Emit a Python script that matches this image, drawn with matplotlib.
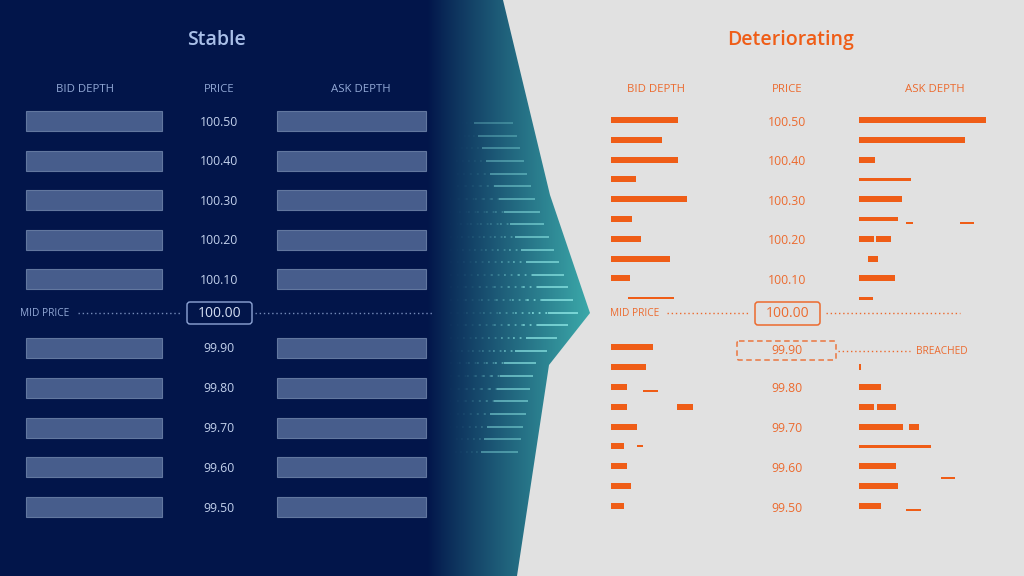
import numpy as np
import matplotlib
matplotlib.use('Agg')
from matplotlib import pyplot
from matplotlib.patches import FancyBboxPatch, Polygon
from matplotlib.colors import to_rgba

pyplot.rcParams['font.family'] = ['Open Sans', 'DejaVu Sans']

# price ladder
prices = [100.50, 100.40, 100.30, 100.20, 100.10, 99.90, 99.80, 99.70, 99.60, 99.50]
price_labels = ['100.50', '100.40', '100.30', '100.20', '100.10',
                '99.90', '99.80', '99.70', '99.60', '99.50']
mid_price = '100.00'

# stable book: full, even depth on every level
stable_bid = [136, 136, 136, 136, 136, 136, 136, 136, 136, 136]
stable_ask = [149, 149, 149, 149, 149, 149, 149, 149, 149, 149]

# deteriorating book: half-tick levels, thin and uneven
det_levels = [100.50, 100.45, 100.40, 100.35, 100.30, 100.25, 100.20, 100.15, 100.10, 100.05,
              99.90, 99.85, 99.80, 99.75, 99.70, 99.65, 99.60, 99.55, 99.50]
det_bid = [67, 51, 67, 25, 76, 21, 30, 59, 19, 0,
           42, 35, 16, 16, 26, 13, 16, 20, 13]
det_ask = [127, 106, 16, 52, 43, 39, 15, 0, 36, 14,
           0, 2, 22, 15, 44, 72, 37, 39, 22]
# stray resting orders (level, offset from book edge, size)
bid_frag_levels = [100.05, 99.79, 99.75, 99.65]
bid_frag_offset = [17, 32, 66, 26]
bid_frag_size = [46, 15, 16, 6]
ask_frag_levels = [100.24, 100.24, 100.20, 100.15, 99.75, 99.70, 99.57, 99.49]
ask_frag_offset = [47, 101, 17, 9, 18, 50, 82, 47]
ask_frag_size = [7, 14, 15, 10, 19, 10, 14, 15]

NAVY = '#02154a'
TEAL = '#3cabab'
LIGHT = '#e1e1e1'
ORANGE = '#ef5d17'
ORANGE_TXT = '#ec6a2e'
BAR = '#475d8c'
BAR_EDGE = '#62779f'
PALE = '#c3d1ec'
HEAD = '#93a9d6'
STREAK = '#8ee8e6'


def ypos(p):
    p = np.asarray(p, dtype=float)
    above = 121 + (100.50 - p) / 0.1 * 39.6
    below = 348 + (99.90 - p) / 0.1 * 39.75
    return np.where(p > 100.0, above, below)


def dotted(ax, x0, x1, y, color, alpha=1.0):
    ax.plot([x0, x1], [y, y], color=color, lw=1.0, ls=(0, (1, 2)), alpha=alpha)


def main():
    fig = pyplot.figure(figsize=(10.24, 5.76), dpi=100)
    ax = fig.add_axes([0, 0, 1, 1])
    ax.set_xlim(0, 1024)
    ax.set_ylim(576, 0)
    ax.axis('off')
    fig.patch.set_facecolor(LIGHT)

    # left background with gradient into teal wedge
    shape = [(0, 0), (503, 0), (550, 195), (590, 313), (549, 365), (517, 576), (0, 576)]
    xs = np.linspace(0, 600, 600)
    t = np.clip((xs - 428) / 165.0, 0, 1) ** 0.9
    c0 = np.array(to_rgba(NAVY))
    c1 = np.array(to_rgba(TEAL))
    grad = (c0[None, :] * (1 - t[:, None]) + c1[None, :] * t[:, None])[None, :, :]
    poly = Polygon(shape, closed=True, facecolor='none', edgecolor='none')
    ax.add_patch(poly)
    im = ax.imshow(grad, extent=[0, 600, 576, 0], aspect='auto', zorder=0)
    im.set_clip_path(poly)

    # streaks in the transition
    for y in np.arange(123, 455, 12.65):
        if y <= 195:
            edge = 503 + (550 - 503) * y / 195
        elif y <= 313:
            edge = 550 + (590 - 550) * (y - 195) / 118
        elif y <= 365:
            edge = 590 - (590 - 549) * (y - 313) / 52
        else:
            edge = 549 - (549 - 517) * (y - 365) / 211
        closeness = 1 - abs(y - 313) / 200
        end = edge - 12 - 8 * (1 - closeness)
        a = 0.3 + 0.6 * closeness
        sol = 30 + 10 * (1 - closeness)
        ax.plot([end - sol, end], [y, y], color=STREAK, lw=1.2, alpha=a,
                solid_capstyle='butt', zorder=2)
        dot_end = end - sol
        span = dot_end - 450
        n = 6
        for k in range(n):
            x0 = 450 + span * k / n
            x1 = 450 + span * (k + 1) / n
            ax.plot([x0, x1], [y, y], color=STREAK, lw=1.3, ls=(0, (1, 2.7)),
                    alpha=a * closeness * ((k + 1) / n) ** 2 * 0.9, zorder=2)

    # ---------------- stable panel ----------------
    ax.text(217, 40, 'Stable', color='#a9bfe8', fontsize=14, fontweight='semibold',
            ha='center', va='center')
    for x, s in [(85, 'BID DEPTH'), (219, 'PRICE'), (361, 'ASK DEPTH')]:
        ax.text(x, 89, s, color=HEAD, fontsize=8.2, ha='center', va='center')

    ys = ypos(prices)
    ax.barh(ys, stable_bid, left=26, height=20, color=BAR, edgecolor=BAR_EDGE, lw=0.8, zorder=3)
    ax.barh(ys, stable_ask, left=277, height=20, color=BAR, edgecolor=BAR_EDGE, lw=0.8, zorder=3)
    for y, s in zip(ys, price_labels):
        ax.text(219, y + 1, s, color=PALE, fontsize=8.8, ha='center', va='center')

    ax.text(20, 313, 'MID PRICE', color=HEAD, fontsize=7.3, ha='left', va='center')
    dotted(ax, 78, 180, 313, HEAD, 0.8)
    dotted(ax, 255, 432, 313, HEAD, 0.8)
    ax.add_patch(FancyBboxPatch((187, 302), 65, 22, boxstyle='round,pad=0,rounding_size=3',
                                facecolor='none', edgecolor='#8fa5d6', lw=1.0, zorder=4))
    ax.text(219.5, 313.5, mid_price, color='#d6e0f4', fontsize=10, ha='center', va='center')

    # ---------------- deteriorating panel ----------------
    ax.text(791, 40, 'Deteriorating', color=ORANGE, fontsize=14, fontweight='semibold',
            ha='center', va='center')
    for x, s in [(656, 'BID DEPTH'), (787, 'PRICE'), (935, 'ASK DEPTH')]:
        ax.text(x, 89, s, color=ORANGE_TXT, fontsize=8.2, ha='center', va='center')

    dy = ypos(det_levels) - 1
    heights_ask = [3 if lv in (100.35, 99.65, 100.05) else (4 if lv == 100.25 else 6)
                   for lv in det_levels]
    heights_bid = [2 if lv == 100.05 else 6 for lv in det_levels]
    ax.barh(dy, det_bid, left=611, height=heights_bid, color=ORANGE, lw=0, zorder=3)
    ax.barh(dy, det_ask, left=859, height=heights_ask, color=ORANGE, lw=0, zorder=3)

    bfy = ypos(bid_frag_levels) - 1
    bh = [2, 2, 6, 2]
    ax.barh(bfy, bid_frag_size, left=611 + np.array(bid_frag_offset), height=bh,
            color=ORANGE, lw=0, zorder=3)
    afy = ypos(ask_frag_levels) - 1
    ah = [2, 2, 6, 6, 6, 6, 2, 2]
    ax.barh(afy, ask_frag_size, left=859 + np.array(ask_frag_offset), height=ah,
            color=ORANGE, lw=0, zorder=3)

    for y, s in zip(ys, price_labels):
        if s == '99.90':
            continue
        ax.text(787, y + 1, s, color=ORANGE_TXT, fontsize=8.8, ha='center', va='center')

    ax.text(610, 313, 'MID PRICE', color=ORANGE_TXT, fontsize=7.3, ha='left', va='center')
    dotted(ax, 667, 750, 313, ORANGE_TXT)
    dotted(ax, 826, 960, 313, ORANGE_TXT)
    ax.add_patch(FancyBboxPatch((755, 302), 65, 23, boxstyle='round,pad=0,rounding_size=3',
                                facecolor='none', edgecolor=ORANGE_TXT, lw=1.1, zorder=4))
    ax.text(787.5, 313.5, mid_price, color=ORANGE_TXT, fontsize=10, ha='center', va='center')

    # breached level
    y99 = float(ypos(99.90)) + 3
    ax.add_patch(FancyBboxPatch((737, y99 - 10), 99, 19, boxstyle='round,pad=0,rounding_size=2',
                                facecolor='none', edgecolor=ORANGE_TXT, lw=1.0,
                                ls=(0, (4, 2.5)), zorder=4))
    ax.text(787, y99, '99.90', color=ORANGE_TXT, fontsize=8.8, ha='center', va='center')
    dotted(ax, 838, 910, y99, ORANGE_TXT)
    ax.text(916, y99, 'BREACHED', color=ORANGE_TXT, fontsize=7.3, ha='left', va='center')

    fig.savefig('out.png', dpi=100, facecolor=fig.get_facecolor())


if __name__ == '__main__':
    main()
